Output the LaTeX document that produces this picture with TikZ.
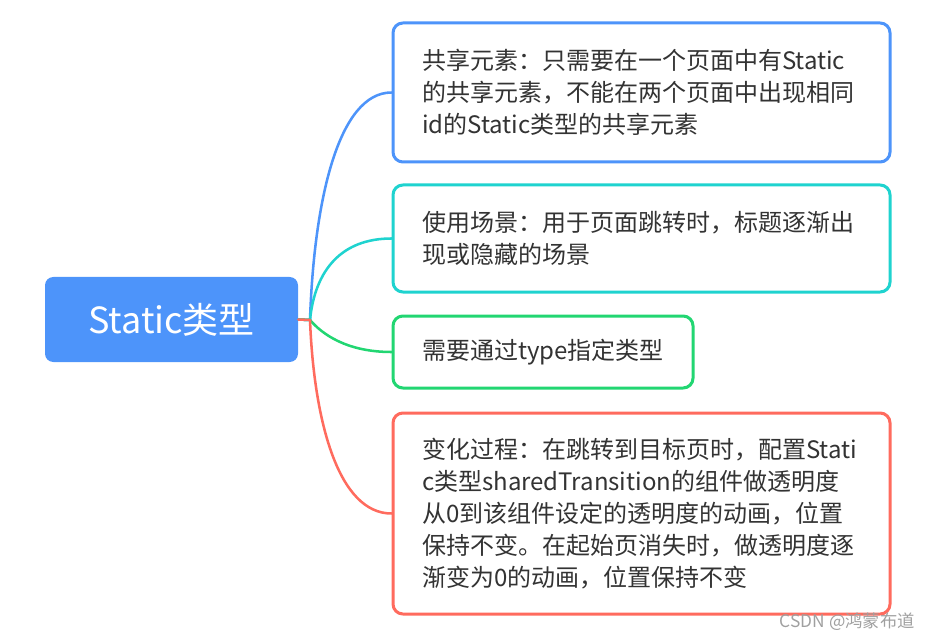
\documentclass[tikz,border=0pt]{standalone}
\usepackage{fontspec}
\setmainfont{Noto Sans CJK SC}
\usepackage{tikz}
\usetikzlibrary{calc}
\definecolor{mapblue}{HTML}{4D94FA}
\definecolor{mapteal}{HTML}{1FD3CF}
\definecolor{mapgreen}{HTML}{22D672}
\definecolor{mapred}{HTML}{FF6B5E}
\definecolor{ink}{HTML}{333333}
\definecolor{markgray}{HTML}{A0A0A0}
\tikzset{
    every picture/.style={line cap=round,line join=round},
    rootnode/.style={fill=mapblue,rounded corners=2.2mm,text=white,
      minimum width=189.75pt,minimum height=63.75pt,inner sep=0pt,
      font=\fontsize{27}{30}\selectfont},
    topicbox/.style={draw,fill=white,line width=2.25pt,rounded corners=2.6mm,
      minimum width=372.75pt,inner xsep=21.75pt,inner ysep=0pt,
      text width=329.25pt,align=left,text=ink,
      font=\fontsize{18}{24}\selectfont},
    branch/.style={line width=1.9pt},
    watermark/.style={text=markgray,font=\fontsize{13}{15}\selectfont,inner sep=0pt}
}
\begin{document}
\begin{tikzpicture}[x=0.75pt,y=-0.75pt]
  \useasboundingbox (0,0) rectangle (930,641);
  \node[rootnode] (root) at (171.5,319.5) {Static类型};
  \node[topicbox,draw=mapblue,minimum height=104.25pt] (shared) at (641.5,92.5)
    {共享元素：只需要在一个页面中有Static\\的共享元素，不能在两个页面中出现相同\\id的Static类型的共享元素};
  \node[topicbox,draw=mapteal,minimum height=80.25pt] (usage) at (641.5,238.5)
    {使用场景：用于页面跳转时，标题逐渐出\\现或隐藏的场景};
  \node[topicbox,draw=mapgreen,minimum height=54pt,minimum width=225pt,
    text width=181.5pt] (typespec) at (543,352) {需要通过type指定类型};
  \node[topicbox,draw=mapred,minimum height=150.75pt] (process) at (641.5,513.5)
    {变化过程：在跳转到目标页时，配置Stati\\c类型sharedTransition的组件做透明度\\从0到该组件设定的透明度的动画，位置\\保持不变。在起始页消失时，做透明度逐\\渐变为0的动画，位置保持不变};
  \coordinate (fork) at (310,320);
  % branches from the root
  \draw[branch,mapblue] (root.east) -- (fork) .. controls +(4,-120) and +(-53,0) .. (shared.west);
  \draw[branch,mapteal] (root.east) -- (fork) .. controls +(5,-50) and +(-50,0) .. (usage.west);
  \draw[branch,mapgreen] (root.east) -- (fork) .. controls +(12,14) and +(-45,0) .. (typespec.west);
  \draw[branch,mapred] (root.east) -- (fork) .. controls +(4,102) and +(-53,0) .. (process.west);
  \node[watermark,anchor=east] (mark) at (915,622) {CSDN @鸿蒙布道};
\end{tikzpicture}
\end{document}
